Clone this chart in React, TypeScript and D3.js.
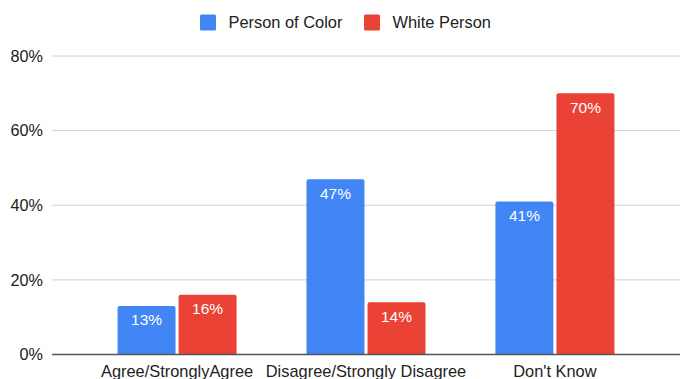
import React from "react";
import * as d3 from "d3";

const categories = ["Agree/StronglyAgree", "Disagree/Strongly Disagree", "Don't Know"];
const seriesNames = ["Person of Color", "White Person"];
const personOfColor = [13, 47, 41];
const whitePerson = [16, 14, 70];
const yTicks = [0, 20, 40, 60, 80];
const colors = ["#4285F4", "#EA4335"];

const W = 680;
const H = 379;
const FONT = "Arial, 'Liberation Sans', Helvetica, sans-serif";

export default function App() {
  const series = [personOfColor, whitePerson];
  const y = d3.scaleLinear().domain([0, 80]).range([354.5, 56]);
  const x0 = d3.scaleBand<string>().domain(categories).range([52, 680]).paddingInner(0.37).paddingOuter(0.347);
  const x1 = d3.scaleBand<number>().domain([0, 1]).range([0, x0.bandwidth()]).paddingInner(0.05);

  const roundTop = (x: number, yt: number, w: number, h: number, r: number) => {
    const p = d3.path();
    p.moveTo(x, yt + h);
    p.lineTo(x, yt + r);
    p.arcTo(x, yt, x + r, yt, r);
    p.lineTo(x + w - r, yt);
    p.arcTo(x + w, yt, x + w, yt + r, r);
    p.lineTo(x + w, yt + h);
    p.closePath();
    return p.toString();
  };

  return (
    <svg width={W} height={H} style={{ position: "absolute", left: 0, top: 0, background: "#fff" }} fontFamily={FONT}>
      {/* legend */}
      {seriesNames.map((name, i) => {
        const lx = [200, 364][i];
        return (
          <g key={name}>
            <rect x={lx} y={14.5} width={16} height={16} rx={1.5} fill={colors[i]} />
            <text x={lx + 28.5} y={28} fontSize={16.4} fill="#222">{name}</text>
          </g>
        );
      })}

      {/* gridlines and y labels */}
      {yTicks.map((t) => (
        <g key={t}>
          {t !== 0 && <line x1={52} x2={680} y1={y(t)} y2={y(t)} stroke="#d0d0d0" strokeWidth={1} />}
          <text x={43} y={y(t) + 5.7} fontSize={16.2} textAnchor="end" fill="#222">{t}%</text>
        </g>
      ))}

      {/* bars */}
      {categories.map((c, ci) => (
        <g key={c} transform={`translate(${x0(c)},0)`}>
          {series.map((vals, si) => {
            const v = vals[ci];
            const bx = x1(si)!;
            const bw = x1.bandwidth();
            const top = y(v);
            return (
              <g key={si}>
                <path d={roundTop(bx, top, bw, y(0) - top, 2)} fill={colors[si]} />
                <text x={bx + bw / 2} y={top + 19.5} fontSize={15.5} textAnchor="middle" fill="#fff">{v}%</text>
              </g>
            );
          })}
        </g>
      ))}

      {/* baseline */}
      <line x1={52} x2={680} y1={y(0)} y2={y(0)} stroke="#555" strokeWidth={1.3} />

      {/* category labels */}
      {categories.map((c) => (
        <text key={c} x={x0(c)! + x0.bandwidth() / 2} y={376.5} fontSize={16.4} textAnchor="middle" fill="#222">{c}</text>
      ))}
    </svg>
  );
}
